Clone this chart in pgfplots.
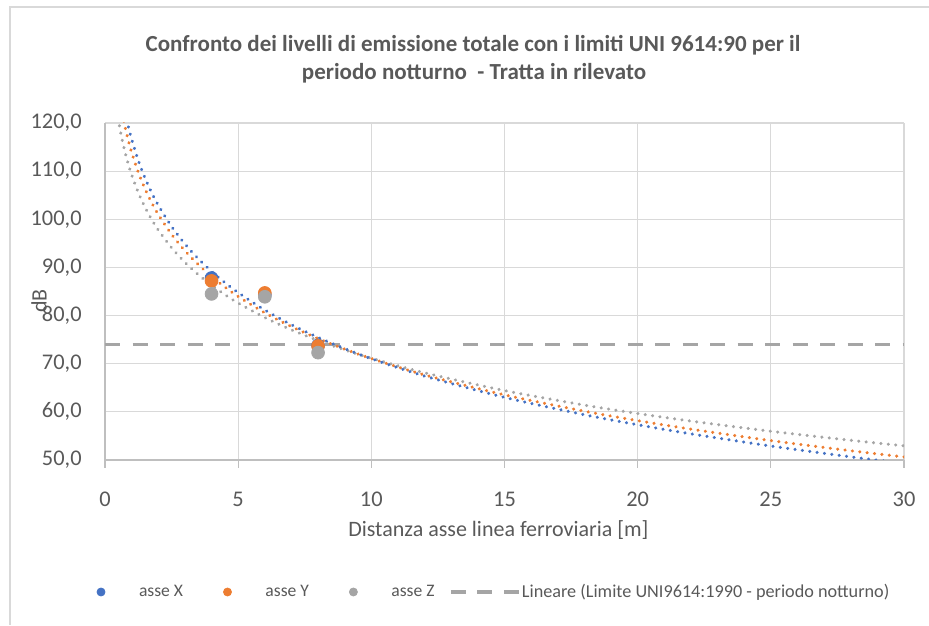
\documentclass[border=0pt]{standalone}
\usepackage{pgfplots}
\pgfplotsset{compat=1.18}
\usepackage{fontspec}
\setmainfont{Carlito}
\definecolor{cblue}{HTML}{4472C4}
\definecolor{corange}{HTML}{ED7D31}
\definecolor{cgray}{HTML}{A5A5A5}
\definecolor{ctext}{HTML}{595959}
\definecolor{cgrid}{HTML}{D9D9D9}
\definecolor{caxis}{HTML}{BFBFBF}

\pgfplotstableread{
x y
0.7 123.69
0.8 121.05
0.9 118.72
1 116.63
1.25 112.21
1.5 108.60
1.75 105.55
2 102.91
2.5 98.49
3 94.88
3.5 91.82
4 89.18
4.5 86.85
5 84.76
6 81.15
7 78.10
8 75.46
9 73.13
10 71.04
12 67.43
15 63.01
18 59.40
20 57.32
22 55.43
25 52.90
28 50.65
30 49.29
}\trendX
\pgfplotstableread{
x y
0.6 123.40
0.7 120.53
0.8 118.05
0.9 115.86
1 113.90
1.25 109.75
1.5 106.36
1.75 103.49
2 101.01
2.5 96.86
3 93.47
3.5 90.60
4 88.11
4.5 85.92
5 83.97
6 80.57
7 77.71
8 75.22
9 73.03
10 71.07
12 67.68
15 63.53
18 60.14
20 58.18
22 56.41
25 54.03
28 51.92
30 50.64
}\trendY
\pgfplotstableread{
x y
0.45 122.46
0.5 120.71
0.6 117.69
0.7 115.14
0.8 112.93
0.9 110.98
1 109.24
1.25 105.55
1.5 102.53
1.75 99.98
2 97.77
2.5 94.08
3 91.06
3.5 88.51
4 86.30
4.5 84.35
5 82.60
6 79.59
7 77.04
8 74.83
9 72.88
10 71.13
12 68.11
15 64.42
18 61.40
20 59.66
22 58.08
25 55.97
28 54.09
30 52.95
}\trendZ

\begin{document}
\begin{tikzpicture}
\useasboundingbox (0,0) rectangle (464.5pt,312.5pt);
\draw[cgrid, line width=0.6pt] (5pt,0) -- (5pt,309pt) -- (464.5pt,309pt);
\begin{axis}[
  at={(52.5pt,82.5pt)}, anchor=south west, scale only axis,
  width=399.5pt, height=168.5pt,
  xmin=0, xmax=30, ymin=50, ymax=120,
  xtick={0,5,...,30}, ytick={50,60,...,120},
  grid=major, major grid style={cgrid, line width=0.6pt},
  axis lines=left, axis line style={caxis, line width=0.6pt, -},
  tick align=outside, major tick length=4pt,
  xtick style={caxis, line width=0.6pt}, ytick style={draw=none},
  /pgf/number format/assume math mode=true,
  ticklabel style={font=\fontsize{11.2}{13}\selectfont, text=ctext},
  yticklabel style={anchor=east, inner sep=0pt,
    /pgf/number format/fixed, /pgf/number format/fixed zerofill,
    /pgf/number format/precision=1, /pgf/number format/use comma},
  xticklabel style={anchor=north, inner sep=0pt},
  xticklabel shift=12pt, yticklabel shift=7.5pt,
  legend columns=4,
  legend style={at={(axis description cs:-0.0125,-0.3917)}, anchor=west,
    draw=none, fill=none, inner sep=0pt, outer sep=0pt,
    font=\fontsize{8.8}{10}\selectfont, text=ctext,
    /tikz/every even column/.append style={column sep=17.2pt},
    /tikz/every odd column/.append style={column sep=0pt}},
  clip=true,
]
\addplot[only marks, mark=*, mark size=3.2pt, color=cblue,
  legend image code/.code={\path[draw=none,fill=none] (-3pt,0) -- (17pt,0); \draw[mark size=2pt] plot coordinates {(0pt,0pt)};}]
  coordinates {(4,87.8) (6,84.3) (8,73.8)};
\addlegendentry{asse X}
\addplot[only marks, mark=*, mark size=3.2pt, color=corange,
  legend image code/.code={\path[draw=none,fill=none] (-3pt,0) -- (17pt,0); \draw[mark size=2pt] plot coordinates {(0pt,0pt)};}]
  coordinates {(4,87.2) (6,84.7) (8,73.7)};
\addlegendentry{asse Y}
\addplot[only marks, mark=*, mark size=3.2pt, color=cgray,
  legend image code/.code={\path[draw=none,fill=none] (-3pt,0) -- (17pt,0); \draw[mark size=2pt] plot coordinates {(0pt,0pt)};}]
  coordinates {(4,84.5) (6,83.9) (8,72.3)};
\addlegendentry{asse Z}
\addplot[cgray, line width=1.7pt, dash pattern=on 7.5pt off 6.25pt,
  legend image code/.code={\path[draw=none,fill=none] (0pt,0) -- (22.5pt,0); \draw[overlay, dash pattern=on 7.5pt off 5.75pt] (-11.1pt,0pt) -- (22.9pt,0pt);}]
  coordinates {(0,74) (30,74)};
\addlegendentry{\fontsize{9.1}{10}\selectfont Lineare (Limite UNI9614:1990 - periodo notturno)}
\addplot[forget plot, cgray, line width=1.7pt, line cap=round, dash pattern=on 0.01pt off 3.7pt, smooth] table {\trendZ};
\addplot[forget plot, corange, line width=1.7pt, line cap=round, dash pattern=on 0.01pt off 3.7pt, smooth] table {\trendY};
\addplot[forget plot, cblue, line width=1.7pt, line cap=round, dash pattern=on 0.01pt off 3.7pt, smooth] table {\trendX};
\end{axis}
\node[anchor=base, font=\bfseries\fontsize{11.5}{14}\selectfont, text=ctext] at (236.5pt,286.5pt)
  {Confronto dei livelli di emissione totale con i limiti UNI 9614:90 per il};
\node[anchor=base, font=\bfseries\fontsize{11.5}{14}\selectfont, text=ctext] at (237pt,272.5pt)
  {periodo notturno\ \ - Tratta in rilevato};
\node[anchor=base, font=\fontsize{11}{13}\selectfont, text=ctext] at (249.2pt,44pt)
  {Distanza asse linea ferroviaria [m]};
\node[rotate=90, font=\fontsize{11}{13}\selectfont, text=ctext] at (19.5pt,162pt) {dB};
\end{tikzpicture}
\end{document}
